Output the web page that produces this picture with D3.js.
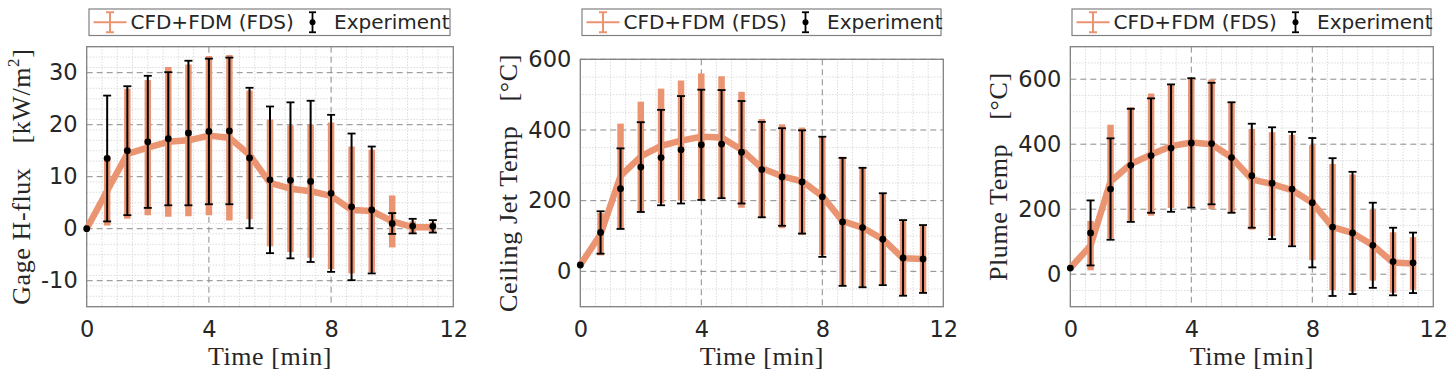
<!DOCTYPE html>
<html><head><meta charset="utf-8">
<script src="https://cdn.jsdelivr.net/npm/d3@7"></script>
<style>body{margin:0;background:#fff}svg{display:block}</style>
</head><body>
<svg id="c" width="1453" height="379"></svg>
<script>
// ---- data ----
const time = [0, 0.67, 1.33, 2, 2.67, 3.33, 4, 4.67, 5.33, 6, 6.67, 7.33, 8, 8.67, 9.33, 10, 10.67, 11.33];
const xTicks = [0, 4, 8, 12];
const legendLabels = ["CFD+FDM (FDS)", "Experiment"];

const expFlux    = [0, 13.5, 15.0, 16.7, 17.3, 18.4, 18.7, 18.8, 13.6, 9.4, 9.3, 9.1, 6.8, 4.2, 3.6, 1.0, 0.5, 0.45];
const expFluxErr = [0, 12.1, 12.4, 12.7, 12.8, 13.9, 14.0, 14.1, 13.5, 14.1, 15.0, 15.5, 15.1, 14.1, 12.2, 2.0, 1.4, 1.2];
const fdsFlux    = [0, 7.3, 14.4, 15.6, 16.7, 17.0, 17.9, 17.5, 14.2, 8.8, 7.7, 7.2, 6.3, 3.6, 3.4, 1.4, 0.3, 0.3];
const fdsFluxErr = [0, 6.7, 12.5, 13.0, 14.4, 14.6, 15.3, 15.9, 12.4, 12.2, 12.2, 12.8, 14.1, 12.2, 11.8, 5.0, 1.1, 0.9];
const fluxTicks  = [-10, 0, 10, 20, 30];

const expCJ    = [18, 110, 234, 295, 322, 344, 358, 360, 337, 288, 267, 253, 211, 140, 124, 91, 38, 35];
const expCJErr = [0, 60, 114, 127, 135, 152, 156, 153, 145, 135, 138, 146, 170, 181, 169, 130, 107, 96];
const fdsCJ    = [18, 105, 270, 325, 355, 370, 381, 379, 344, 292, 269, 255, 213, 142, 124, 91, 37, 35];
const fdsCJErr = [0, 60, 148, 155, 162, 170, 179, 173, 164, 139, 147, 152, 167, 182, 169, 128, 105, 95];
const cjTicks  = [0, 200, 400, 600];

const expPl    = [19, 127, 262, 335, 365, 388, 404, 402, 359, 303, 280, 262, 220, 145, 127, 89, 39, 35];
const expPlErr = [0, 100, 156, 174, 176, 196, 199, 187, 170, 160, 172, 176, 199, 212, 188, 131, 104, 93];
const fdsPl    = [19, 88, 285, 339, 368, 394, 405, 400, 359, 292, 277, 259, 220, 145, 127, 89, 36, 33];
const fdsPlErr = [0, 76, 175, 175, 188, 190, 197, 199, 170, 155, 160, 170, 177, 194, 180, 109, 93, 81];
const plTicks  = [0, 200, 400, 600];

// ---- layout / style ----
const ORANGE = "#ea9472";
const TXT = "#262626";
const panels = [
  {left:86.7, right:453.3, top:46.7, bottom:306.7, ydom:[-15,35], ticks:fluxTicks, minor:2,
   exp:expFlux, expErr:expFluxErr, fds:fdsFlux, fdsErr:fdsFluxErr,
   ylabel:[["Gage H-flux"],["[kW/m"],["2","sup"],["]"]], ylx:29.5, leg:[89,450]},
  {left:580.3, right:943.3, top:59.3, bottom:306.7, ydom:[-100,600], ticks:cjTicks, minor:50,
   exp:expCJ, expErr:expCJErr, fds:fdsCJ, fdsErr:fdsCJErr,
   ylabel:[["Ceiling Jet Temp"],["[°C]"]], ylx:516.5, leg:[582,941]},
  {left:1070.3, right:1433.3, top:46.7, bottom:306.7, ydom:[-100,700], ticks:plTicks, minor:50,
   exp:expPl, expErr:expPlErr, fds:fdsPl, fdsErr:fdsPlErr,
   ylabel:[["Plume Temp"],["[°C]"]], ylx:1006.5, leg:[1072,1431]}
];

const svg = d3.select("#c");

panels.forEach(p => {
  const x = d3.scaleLinear().domain([0,12]).range([p.left, p.right]);
  const y = d3.scaleLinear().domain(p.ydom).range([p.bottom, p.top]);
  const g = svg.append("g");

  // minor grid
  const xm = d3.range(0, 12.001, 0.5).filter(v => v % 4 !== 0);
  g.selectAll(null).data(xm).join("line")
    .attr("x1", d=>x(d)).attr("x2", d=>x(d)).attr("y1", p.top).attr("y2", p.bottom)
    .attr("stroke", "#cbcbcb").attr("stroke-width", 1).attr("stroke-dasharray", "1,2");
  const ym = d3.range(p.ydom[0], p.ydom[1] + 0.001, p.minor).filter(v => !p.ticks.includes(v));
  g.selectAll(null).data(ym).join("line")
    .attr("y1", d=>y(d)).attr("y2", d=>y(d)).attr("x1", p.left).attr("x2", p.right)
    .attr("stroke", "#cbcbcb").attr("stroke-width", 1).attr("stroke-dasharray", "1,2");

  // major grid
  g.selectAll(null).data([4, 8]).join("line")
    .attr("x1", d=>x(d)).attr("x2", d=>x(d)).attr("y1", p.top).attr("y2", p.bottom)
    .attr("stroke", "#8a8a8a").attr("stroke-width", 1).attr("stroke-dasharray", "6,4");
  g.selectAll(null).data(p.ticks).join("line")
    .attr("y1", d=>y(d)).attr("y2", d=>y(d)).attr("x1", p.left).attr("x2", p.right)
    .attr("stroke", "#8a8a8a").attr("stroke-width", 1).attr("stroke-dasharray", "6,4");

  // box
  g.append("rect").attr("x", p.left).attr("y", p.top)
    .attr("width", p.right - p.left).attr("height", p.bottom - p.top)
    .attr("fill", "none").attr("stroke", "#808080").attr("stroke-width", 1.3);

  // axes (labels only)
  const fmt = d => String(d);
  const xa = g.append("g").attr("transform", `translate(0,${p.bottom})`)
    .call(d3.axisBottom(x).tickValues(xTicks).tickSize(0).tickPadding(14).tickFormat(fmt));
  const ya = g.append("g").attr("transform", `translate(${p.left},0)`)
    .call(d3.axisLeft(y).tickValues(p.ticks).tickSize(0).tickPadding(9).tickFormat(fmt));
  [xa, ya].forEach(a => {
    a.select(".domain").remove();
    a.selectAll("text").attr("font-family", "DejaVu Sans").attr("font-size", 22.5).attr("fill", TXT);
  });

  // FDS line + error bars
  const line = d3.line().x((d,i)=>x(time[i])).y(d=>y(d));
  g.append("path").attr("d", line(p.fds)).attr("fill", "none")
    .attr("stroke", ORANGE).attr("stroke-width", 6.5).attr("stroke-linejoin", "round");
  g.selectAll(null).data(p.fds).join("line")
    .attr("x1", (d,i)=>x(time[i])).attr("x2", (d,i)=>x(time[i]))
    .attr("y1", (d,i)=>y(d - p.fdsErr[i])).attr("y2", (d,i)=>y(d + p.fdsErr[i]))
    .attr("stroke", ORANGE).attr("stroke-width", 6.5);

  // experiment error bars
  const eb = p.exp.map((d,i)=>({t:time[i], v:d, e:p.expErr[i]})).filter(d=>d.e>0);
  g.selectAll(null).data(eb).join("line")
    .attr("x1", d=>x(d.t)).attr("x2", d=>x(d.t)).attr("y1", d=>y(d.v-d.e)).attr("y2", d=>y(d.v+d.e))
    .attr("stroke", "#000").attr("stroke-width", 2);
  ["-", "+"].forEach(s => {
    g.selectAll(null).data(eb).join("line")
      .attr("x1", d=>x(d.t)-4).attr("x2", d=>x(d.t)+4)
      .attr("y1", d=>y(s==="+"?d.v+d.e:d.v-d.e)).attr("y2", d=>y(s==="+"?d.v+d.e:d.v-d.e))
      .attr("stroke", "#000").attr("stroke-width", 1.8);
  });
  g.selectAll(null).data(p.exp).join("circle")
    .attr("cx", (d,i)=>x(time[i])).attr("cy", d=>y(d)).attr("r", 3.4).attr("fill", "#000");

  // x label
  g.append("text").attr("x", (p.left+p.right)/2).attr("y", 365)
    .attr("text-anchor", "middle").attr("font-family", "Liberation Serif")
    .attr("font-size", 26).attr("letter-spacing", 0.6).attr("fill", TXT).text("Time [min]");

  // y label
  const cy = (p.top + p.bottom)/2;
  const yl = g.append("text").attr("transform", `translate(${p.ylx},${cy}) rotate(-90)`)
    .attr("text-anchor", "middle").attr("font-family", "Liberation Serif")
    .attr("font-size", 26).attr("letter-spacing", 0.6).attr("fill", TXT);
  p.ylabel.forEach((part, k) => {
    const ts = yl.append("tspan").text(part[0]);
    if (k === 1) ts.attr("dx", 24);
    if (part[1] === "sup") ts.attr("font-size", 17).attr("dy", -11);
    if (k === 3) ts.attr("dy", 11);
  });

  // legend
  const L = p.leg[0], R = p.leg[1], T = 9, B = 35.5, my = (T+B)/2;
  const lg = g.append("g");
  lg.append("rect").attr("x", L).attr("y", T).attr("width", R-L).attr("height", B-T)
    .attr("fill", "#fff").attr("stroke", "#808080").attr("stroke-width", 1.2);
  lg.append("line").attr("x1", L+4.5).attr("x2", L+37.5).attr("y1", my).attr("y2", my)
    .attr("stroke", ORANGE).attr("stroke-width", 2);
  lg.append("line").attr("x1", L+21).attr("x2", L+21).attr("y1", my-10).attr("y2", my+10)
    .attr("stroke", ORANGE).attr("stroke-width", 2);
  [-10, 10].forEach(o => lg.append("line").attr("x1", L+17).attr("x2", L+25)
    .attr("y1", my+o).attr("y2", my+o).attr("stroke", ORANGE).attr("stroke-width", 2));
  lg.append("text").attr("x", L+41.5).attr("y", my+7).attr("font-family", "DejaVu Sans")
    .attr("font-size", 20).attr("fill", TXT).text(legendLabels[0]);
  const bx = L+223.5;
  lg.append("line").attr("x1", bx).attr("x2", bx).attr("y1", my-10).attr("y2", my+10)
    .attr("stroke", "#000").attr("stroke-width", 1.8);
  [-10, 10].forEach(o => lg.append("line").attr("x1", bx-3.5).attr("x2", bx+3.5)
    .attr("y1", my+o).attr("y2", my+o).attr("stroke", "#000").attr("stroke-width", 1.8));
  lg.append("circle").attr("cx", bx).attr("cy", my).attr("r", 3).attr("fill", "#000");
  lg.append("text").attr("x", L+245).attr("y", my+7).attr("font-family", "DejaVu Sans")
    .attr("font-size", 20).attr("fill", TXT).text(legendLabels[1]);
});
</script>
</body></html>
